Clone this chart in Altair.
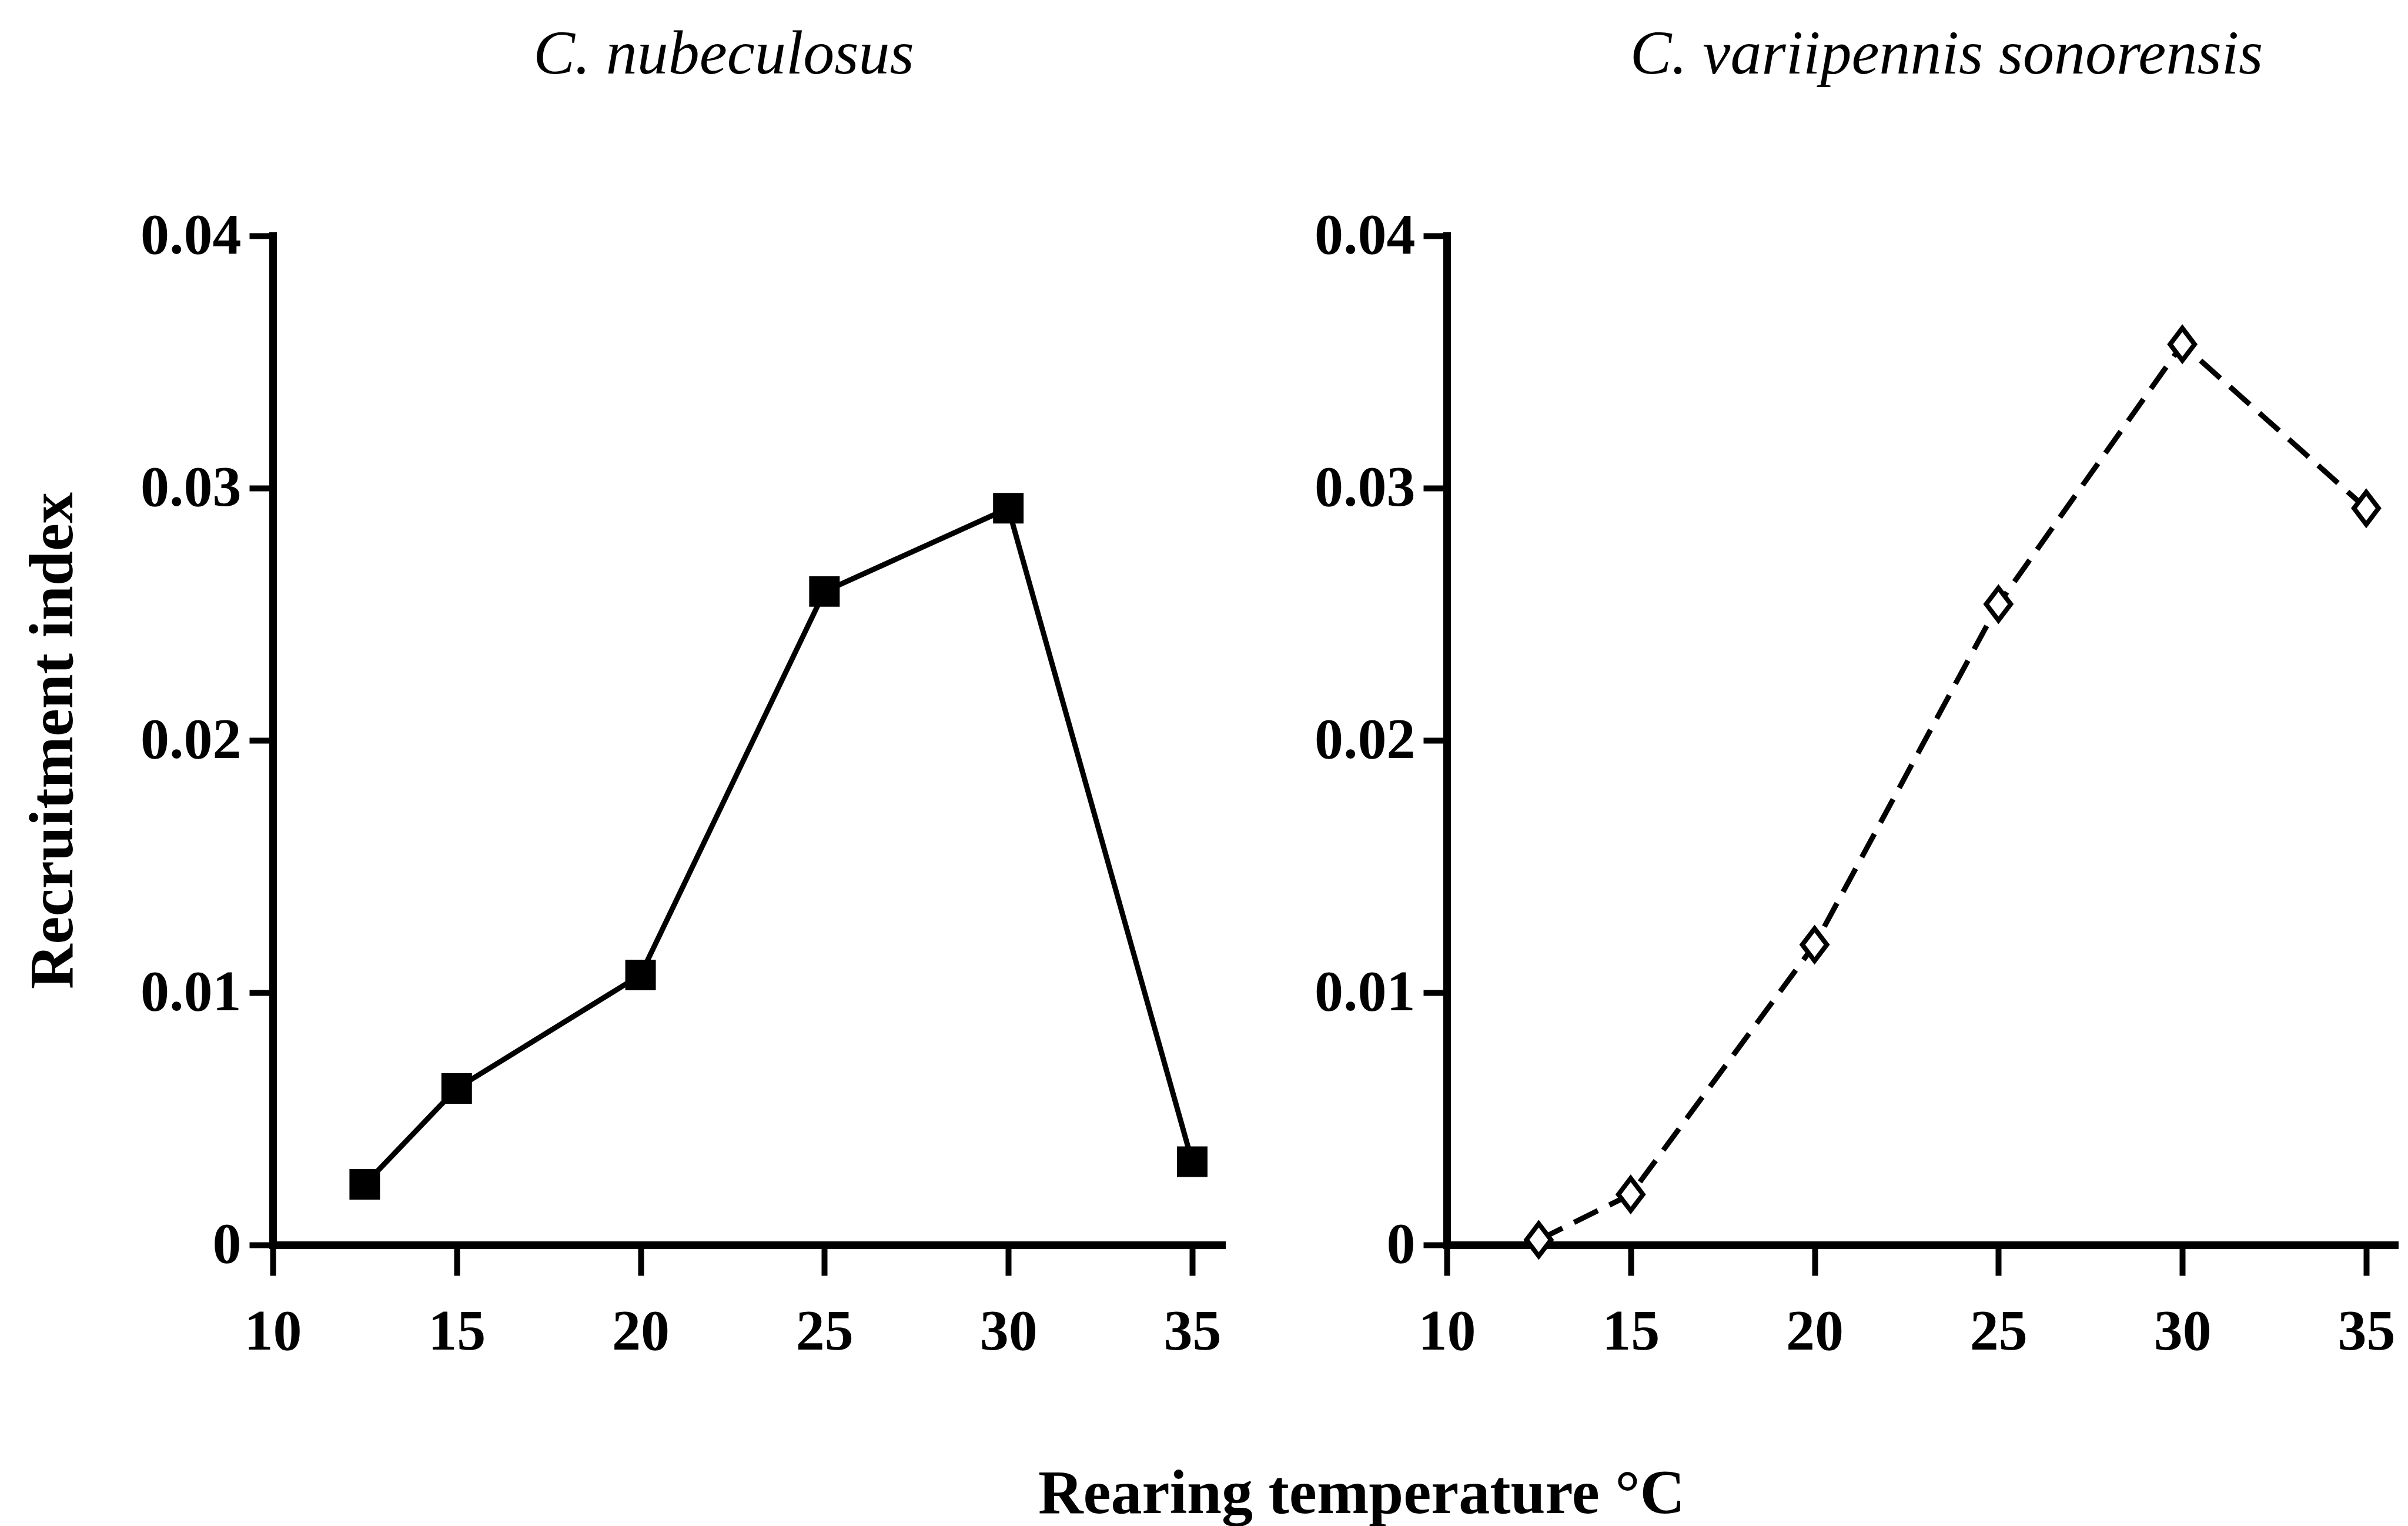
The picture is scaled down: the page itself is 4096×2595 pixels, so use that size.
import altair as alt
import pandas as pd

# Rearing temperatures (°C) and recruitment index for the two species
temps = [12.5, 15, 20, 25, 30, 35]
nubeculosus = [0.0024, 0.0062, 0.0107, 0.0259, 0.0292, 0.0033]
sonorensis = [0.0002, 0.0020, 0.0119, 0.0254, 0.0357, 0.0292]

x_ticks = [10, 15, 20, 25, 30, 35]
y_ticks = [0, 0.01, 0.02, 0.03, 0.04]

FONT = "Liberation Serif"
PANEL_W = 1614
PANEL_H = 1716
DIAMOND = "M0,-1L0.76,0L0,1L-0.76,0Z"


def x_enc():
    return alt.X(
        "temp:Q",
        scale=alt.Scale(domain=[10, 35.8], nice=False, zero=False),
        axis=alt.Axis(
            values=x_ticks,
            format="d",
            title=None,
            grid=False,
            domainColor="black",
            domainWidth=13,
            domainCap="square",
            tickColor="black",
            tickWidth=10,
            tickSize=52,
            labelFont=FONT,
            labelFontSize=98,
            labelFontWeight="bold",
            labelColor="black",
            labelPadding=48,
            labelFlush=False,
            labelOverlap=False,
        ),
    )


def y_enc(title):
    axis_kw = dict(
        values=y_ticks,
        format=".2~f",
        grid=False,
        domainColor="black",
        domainWidth=13,
        domainCap="square",
        tickColor="black",
        tickWidth=10,
        tickSize=40,
        labelFont=FONT,
        labelFontSize=98,
        labelFontWeight="bold",
        labelColor="black",
        labelPadding=14,
        labelFlush=False,
        labelOverlap=False,
    )
    if title:
        axis_kw.update(
            title=title,
            titleFont=FONT,
            titleFontSize=106,
            titleFontWeight="bold",
            titleColor="black",
            titlePadding=120,
        )
    else:
        axis_kw.update(title=None)
    return alt.Y(
        "ri:Q",
        scale=alt.Scale(domain=[0, 0.04], nice=False, zero=False),
        axis=alt.Axis(**axis_kw),
    )


def panel_title(text, dx):
    return alt.TitleParams(
        text,
        font=FONT,
        fontSize=106,
        fontStyle="italic",
        fontWeight="normal",
        color="black",
        anchor="middle",
        baseline="alphabetic",
        dx=dx,
        offset=121,
    )


left_df = pd.DataFrame({"temp": temps, "ri": nubeculosus})
right_df = pd.DataFrame({"temp": temps, "ri": sonorensis})

left_base = alt.Chart(left_df).encode(x=x_enc(), y=y_enc("Recruitment index"))
left = alt.layer(
    left_base.mark_line(color="black", strokeWidth=9),
    left_base.mark_point(
        shape="square", filled=True, size=2700, color="black", opacity=1
    ),
).properties(
    width=PANEL_W, height=PANEL_H, title=panel_title("C. nubeculosus", -40)
)

right_base = alt.Chart(right_df).encode(x=x_enc(), y=y_enc(None))
right = alt.layer(
    right_base.mark_line(color="black", strokeWidth=9, strokeDash=[45, 22]),
    right_base.mark_point(
        shape=DIAMOND,
        filled=True,
        size=3025,
        fill="white",
        stroke="black",
        strokeWidth=8,
        opacity=1,
    ),
).properties(
    width=PANEL_W,
    height=PANEL_H,
    title=panel_title("C. variipennis sonorensis", 43),
)

chart = (
    alt.hconcat(left, right, spacing=157)
    .properties(
        title=alt.TitleParams(
            "Rearing temperature °C",
            orient="bottom",
            anchor="start",
            font=FONT,
            fontSize=106,
            fontWeight="bold",
            color="black",
            dx=1729,
            offset=175,
        ),
        padding={"left": 37, "top": 40, "right": 5, "bottom": 5},
        background="white",
    )
    .configure_view(strokeWidth=0)
)

chart.save("out.html", embed_options={"renderer": "svg", "actions": False})
